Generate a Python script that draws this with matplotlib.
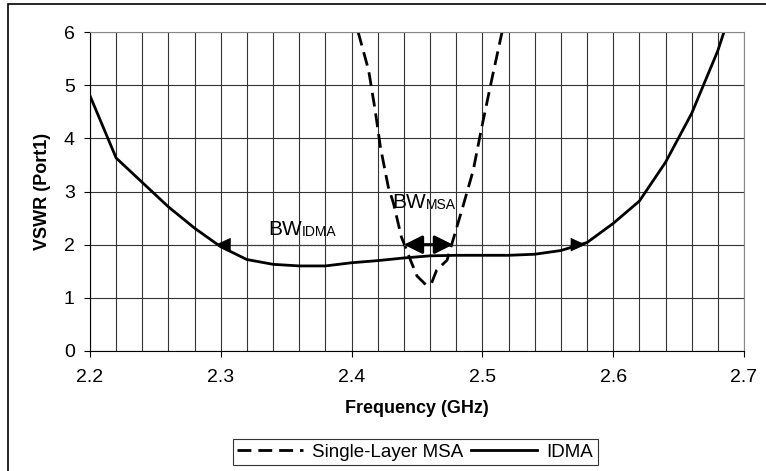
import matplotlib
matplotlib.use("Agg")
import matplotlib.pyplot as plt
from matplotlib.patches import Rectangle
from matplotlib.ticker import MultipleLocator

plt.rcParams['font.family'] = ['Liberation Sans', 'DejaVu Sans']

# IDMA curve (solid)
idma_freq = [2.20, 2.22, 2.24, 2.26, 2.28, 2.30, 2.32, 2.34, 2.36, 2.38,
             2.40, 2.42, 2.44, 2.46, 2.48, 2.50, 2.52, 2.54, 2.56, 2.58,
             2.60, 2.62, 2.64, 2.66, 2.68, 2.69]
idma_vswr = [4.80, 3.63, 3.17, 2.71, 2.31, 1.96, 1.72, 1.63, 1.60, 1.60,
             1.66, 1.70, 1.75, 1.79, 1.80, 1.80, 1.80, 1.82, 1.89, 2.04,
             2.40, 2.82, 3.55, 4.47, 5.65, 6.40]

# Single-layer MSA curve (dashed)
msa_freq = [2.405, 2.413, 2.418, 2.422, 2.428, 2.432, 2.438, 2.445, 2.450,
            2.457, 2.461, 2.465, 2.473, 2.479, 2.485, 2.493, 2.499, 2.507,
            2.515]
msa_vswr = [6.00, 5.28, 4.53, 3.84, 3.09, 2.78, 2.15, 1.71, 1.41,
            1.24, 1.27, 1.52, 1.71, 2.21, 2.71, 3.40, 4.15, 5.09,
            6.00]

# bandwidth markers
bw_idma = [2.296, 2.579]
bw_msa = [2.440, 2.4775]

fig = plt.figure(figsize=(7.66, 4.71), dpi=100)
ax = fig.add_axes([0.1175, 0.2548, 0.8538, 0.6772])

ax.plot(msa_freq, msa_vswr, color='black', lw=2.0, dashes=(5, 2.5),
        label='Single-Layer MSA')
ax.plot(idma_freq, idma_vswr, color='black', lw=2.0, label='IDMA')

ax.set_xlim(2.2, 2.7)
ax.set_ylim(0, 6)
ax.xaxis.set_major_locator(MultipleLocator(0.1))
ax.xaxis.set_minor_locator(MultipleLocator(0.02))
ax.yaxis.set_major_locator(MultipleLocator(1))
ax.grid(True, which='both', color='#333333', lw=0.8)
ax.tick_params(axis='both', which='major', direction='out', length=4,
               labelsize=14, color='black')
ax.tick_params(axis='x', which='major', pad=9)
ax.tick_params(axis='y', which='major', pad=7)
ax.tick_params(axis='x', which='minor', length=0)
ax.set_axisbelow(True)
for s in ['top', 'right']:
    ax.spines[s].set_color('#888888')

ax.set_xlabel('Frequency (GHz)', fontsize=13, fontweight='bold', labelpad=10)
ax.set_ylabel('VSWR (Port1)', fontsize=13, fontweight='bold', labelpad=9)

# IDMA bandwidth: dotted line with arrow heads
ax.plot(bw_idma, [2, 2], color='#444444', lw=0.9, ls=(0, (2, 1)))
head = dict(arrowstyle='-|>,head_length=1.0,head_width=0.45',
            color='black', lw=0.5, shrinkA=0, shrinkB=0)
ax.annotate('', xy=(bw_idma[0], 2), xytext=(bw_idma[0] + 0.01, 2),
            arrowprops=head)
ax.annotate('', xy=(bw_idma[1], 2), xytext=(bw_idma[1] - 0.01, 2),
            arrowprops=head)

# MSA bandwidth: thick double arrow
ax.annotate('', xy=(bw_msa[0], 2), xytext=(bw_msa[1], 2),
            arrowprops=dict(arrowstyle='<|-|>,head_length=1.1,head_width=0.55',
                            color='black', lw=2.2, shrinkA=0, shrinkB=0))

t1 = ax.text(2.336, 2.18, 'BW', fontsize=15, va='baseline')
ax.annotate('IDMA', xy=(1, 0), xycoords=t1, fontsize=10, va='bottom')
t2 = ax.text(2.431, 2.69, 'BW', fontsize=15, va='baseline')
ax.annotate('MSA', xy=(1, 0), xycoords=t2, fontsize=10, va='bottom')

leg = fig.legend(loc='center', bbox_to_anchor=(0.542, 0.040), ncol=2,
                 fontsize=13.5, frameon=True, fancybox=False, handlelength=3.5,
                 handletextpad=0.5, columnspacing=0.4, borderpad=0.25)
leg.get_frame().set_edgecolor('black')
leg.get_frame().set_linewidth(0.8)

# outer chart border (left and top visible)
fig.add_artist(Rectangle((8 / 766, -0.1), 1.2, 1.1 - 4 / 471, fill=False,
                         transform=fig.transFigure, edgecolor='black',
                         lw=1.2, clip_on=False))

fig.savefig('out.png', dpi=100)
